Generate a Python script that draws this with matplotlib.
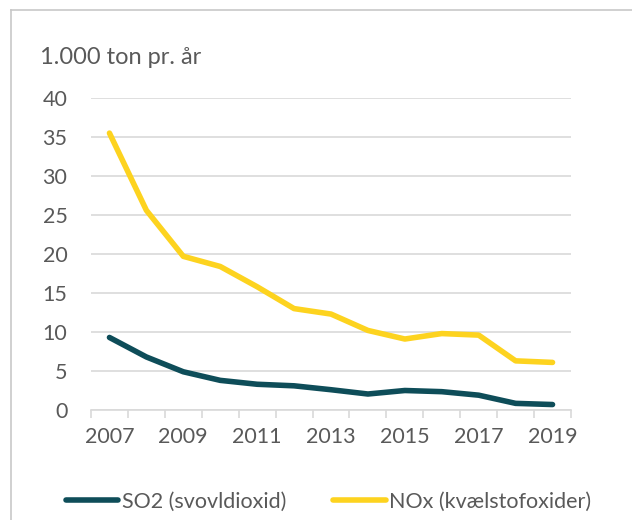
import matplotlib.pyplot as plt
from matplotlib.lines import Line2D

# data
years = list(range(2007, 2020))
so2 = [9.3, 6.8, 4.9, 3.8, 3.3, 3.1, 2.6, 2.05, 2.5, 2.35, 1.9, 0.85, 0.7]
nox = [35.5, 25.6, 19.7, 18.4, 15.8, 13.0, 12.3, 10.2, 9.1, 9.8, 9.6, 6.3, 6.1]
year_labels = [str(y) if y % 2 == 1 else "" for y in years]

plt.rcParams["font.family"] = ["Lato", "DejaVu Sans"]
txt = "#595959"
teal = "#0e4d59"
yellow = "#fdd31f"
fs = 15.5

fig = plt.figure(figsize=(6.32, 5.2), dpi=100)
ax = fig.add_axes([91 / 632, 1 - 410 / 520, 480 / 632, 312 / 520])

x = list(range(len(years)))
ax.plot(x, so2, color=teal, linewidth=4, solid_capstyle="round", label="SO2 (svovldioxid)")
ax.plot(x, nox, color=yellow, linewidth=4, solid_capstyle="round", label="NOx (kvælstofoxider)")

ax.set_xlim(-0.5, len(years) - 0.5)
ax.set_ylim(0, 40)
ax.set_yticks(range(0, 41, 5))
ax.yaxis.grid(True, color="#d9d9d9", linewidth=1.2)
ax.set_axisbelow(True)
ax.set_xticks([i for i, l in enumerate(year_labels) if l])
ax.set_xticklabels([l for l in year_labels if l])
ax.set_xticks([i - 0.5 for i in range(len(years) + 1)], minor=True)
ax.tick_params(axis="x", which="major", length=0, pad=12, labelsize=fs, labelcolor=txt)
ax.tick_params(axis="x", which="minor", length=6, color="#d9d9d9", width=1.2)
ax.tick_params(axis="y", length=0, pad=17, labelsize=fs, labelcolor=txt)
for side in ["top", "right", "left"]:
    ax.spines[side].set_visible(False)
ax.spines["bottom"].set_color("#d9d9d9")
ax.spines["bottom"].set_linewidth(1.2)

fig.text(40 / 632, 1 - 57 / 520, "1.000 ton pr. år", color=txt, fontsize=17, va="center")

# chart frame (top and left edges visible)
fig.add_artist(Line2D([11 / 632, 1], [1 - 10 / 520, 1 - 10 / 520], color="#c8c8c8", linewidth=1.2))
fig.add_artist(Line2D([11 / 632, 11 / 632], [0, 1 - 10 / 520], color="#c8c8c8", linewidth=1.2))

leg = fig.legend(loc="center left", bbox_to_anchor=(57 / 632, 1 - 502 / 520), ncol=2,
                 frameon=False, fontsize=fs, handlelength=2.45, handletextpad=0.15,
                 columnspacing=2.2, labelcolor=txt, borderaxespad=0)

fig.savefig("out.png", dpi=100)
